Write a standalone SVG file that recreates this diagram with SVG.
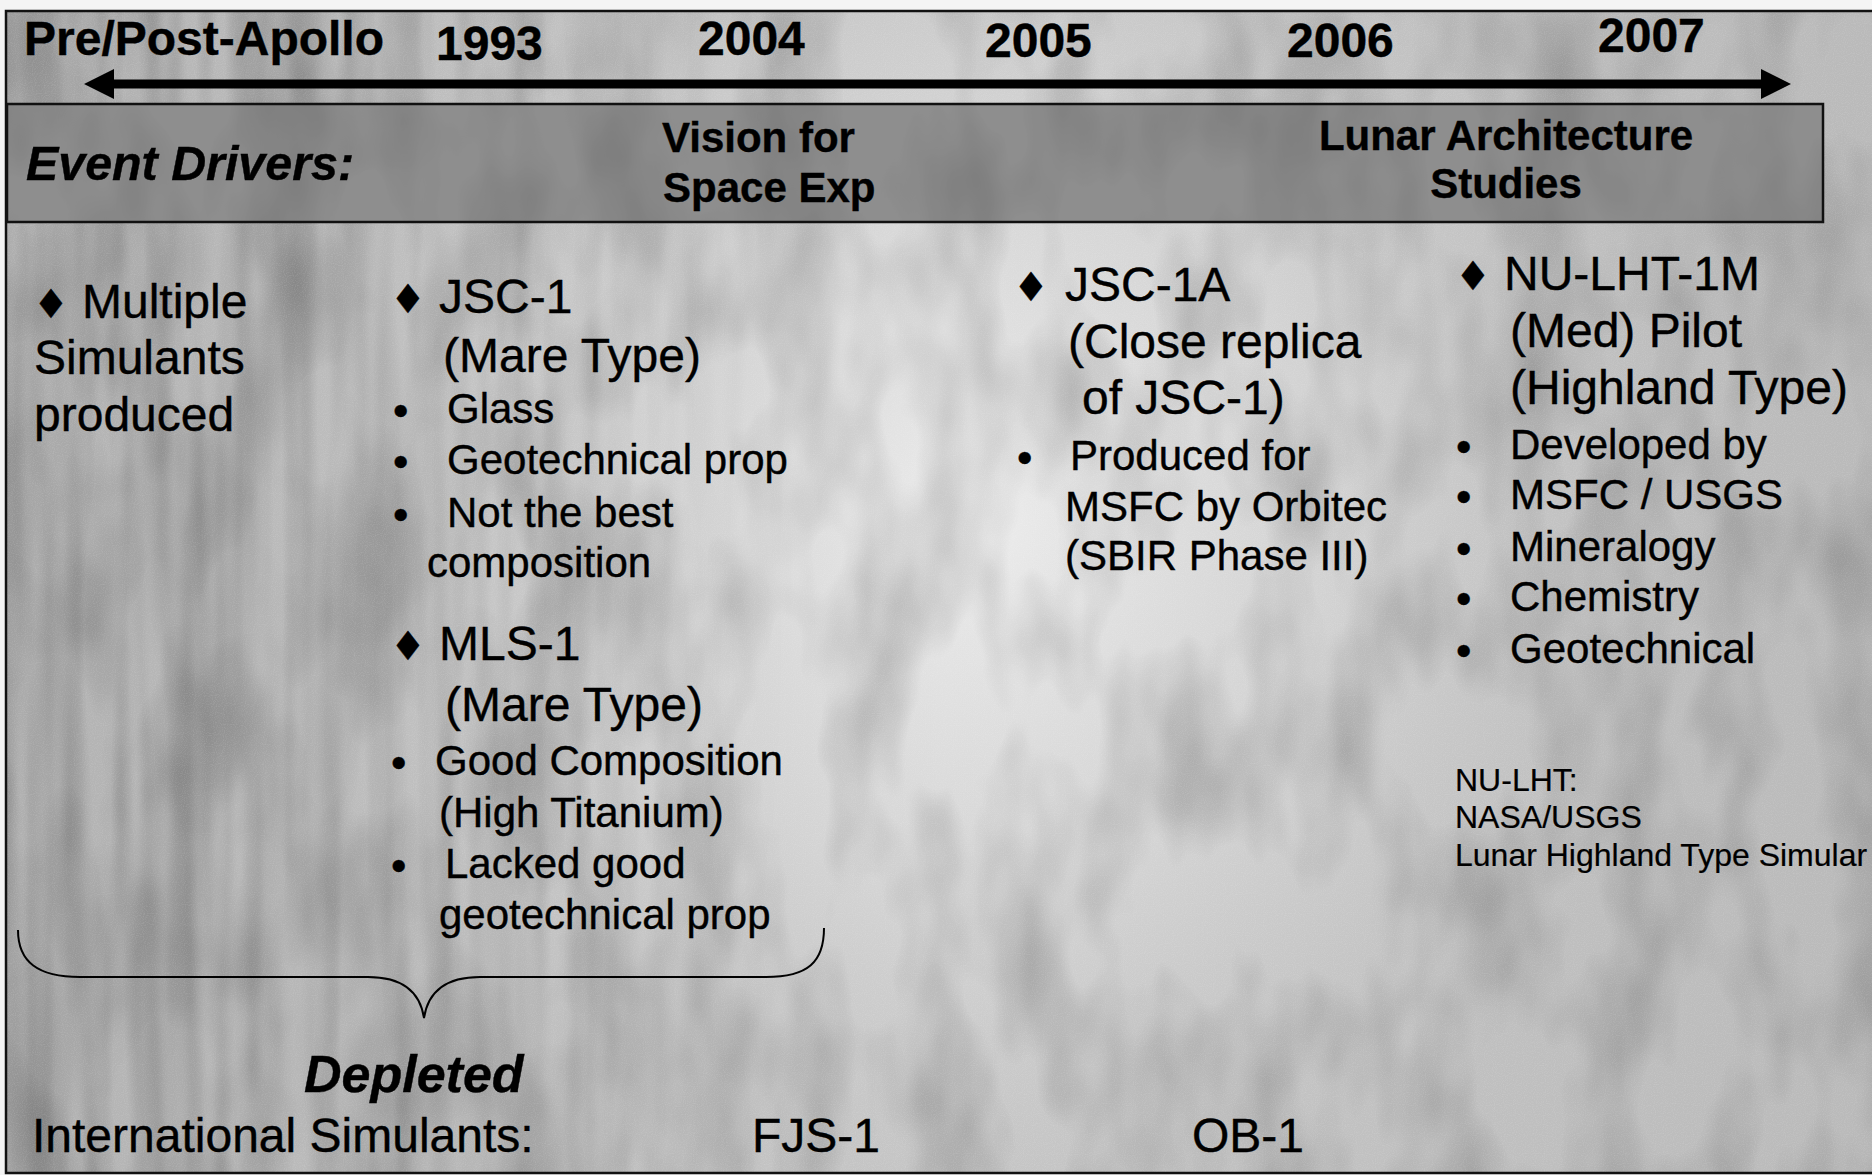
<svg xmlns="http://www.w3.org/2000/svg" width="1872" height="1175" viewBox="0 0 1872 1175">
<style>
text{font-family:"Liberation Sans",Arial,sans-serif;fill:#000;stroke:#000;stroke-width:0.4}
.yr{font-weight:bold;font-size:48px}
.bd{font-weight:bold;font-size:42px}
.bi{font-weight:bold;font-style:italic;font-size:48px}
.h{font-size:48px}
.s{font-size:42px}
.fn{font-size:32px;stroke-width:0.2}
.dia{font-family:"DejaVu Sans","Noto Sans",sans-serif;font-size:40px}
.blt{font-size:44px}
</style>
<defs>
<radialGradient id="glow" cx="980" cy="520" r="720" gradientUnits="userSpaceOnUse">
<stop offset="0" stop-color="#efefef" stop-opacity="0.95"/>
<stop offset="0.5" stop-color="#e2e2e2" stop-opacity="0.6"/>
<stop offset="1" stop-color="#d0d0d0" stop-opacity="0"/>
</radialGradient>
<linearGradient id="leftdark" x1="0" y1="0" x2="1" y2="0">
<stop offset="0" stop-color="#9a9a9a" stop-opacity="0.45"/>
<stop offset="0.25" stop-color="#a8a8a8" stop-opacity="0.2"/>
<stop offset="0.5" stop-color="#b0b0b0" stop-opacity="0"/>
<stop offset="1" stop-color="#909090" stop-opacity="0.2"/>
</linearGradient>
<linearGradient id="streakfade" x1="0" y1="0" x2="1" y2="0">
<stop offset="0" stop-color="#fff" stop-opacity="1"/>
<stop offset="0.6" stop-color="#fff" stop-opacity="0.6"/>
<stop offset="1" stop-color="#fff" stop-opacity="0"/>
</linearGradient>
<mask id="leftmask" maskUnits="userSpaceOnUse" x="0" y="0" width="1872" height="1175">
<rect x="0" y="0" width="800" height="1175" fill="url(#streakfade)"/>
</mask>
<filter id="mottle" x="0" y="0" width="100%" height="100%">
<feTurbulence type="fractalNoise" baseFrequency="0.012 0.006" numOctaves="3" seed="4"/>
<feColorMatrix type="matrix" values="0 0 0 0 0  0 0 0 0 0  0 0 0 0 0  0.9 0 0 0 -0.35"/>
</filter>
<filter id="streak" x="0" y="0" width="100%" height="100%">
<feTurbulence type="fractalNoise" baseFrequency="0.035 0.0025" numOctaves="2" seed="9"/>
<feColorMatrix type="matrix" values="0 0 0 0 0  0 0 0 0 0  0 0 0 0 0  1.2 0 0 0 -0.45"/>
</filter>
<filter id="grain" x="0" y="0" width="100%" height="100%">
<feTurbulence type="fractalNoise" baseFrequency="0.9" numOctaves="1" seed="2"/>
<feColorMatrix type="matrix" values="0 0 0 0 1  0 0 0 0 1  0 0 0 0 1  0.9 0 0 0 -0.4"/>
</filter>
<marker id="ah" markerUnits="userSpaceOnUse" markerWidth="30" markerHeight="30" refX="14" refY="15" orient="auto-start-reverse">
<path d="M0,0 L30,15 L0,30 z" fill="#000"/>
</marker>
</defs>

<g id="background">
<rect x="0" y="0" width="1872" height="1175" fill="#f4f4f4"/>
<rect x="6" y="11" width="1870" height="1162" fill="#c4c4c4"/>
<rect x="6" y="11" width="1870" height="1162" fill="url(#glow)"/>
<rect x="6" y="11" width="1870" height="1162" fill="url(#leftdark)"/>
<rect x="6" y="11" width="1870" height="1162" filter="url(#mottle)" opacity="0.42"/>
<g mask="url(#leftmask)"><rect x="6" y="11" width="800" height="1162" filter="url(#streak)" opacity="0.35"/></g>
<rect x="6" y="11" width="1870" height="1162" filter="url(#grain)" opacity="0.35"/>
<rect x="6" y="11" width="1870" height="1162" fill="none" stroke="#111" stroke-width="2.5"/>
</g>

<g id="band">
<rect x="7" y="104" width="1816" height="118" fill="#8e8e8e"/>
<rect x="7" y="104" width="1816" height="118" filter="url(#mottle)" opacity="0.3"/>
<rect x="7" y="104" width="1816" height="118" fill="none" stroke="#111" stroke-width="2.5"/>
<text class="bi" x="26" y="180" textLength="328" lengthAdjust="spacingAndGlyphs">Event Drivers:</text>
<text class="bd" x="662" y="152">Vision for</text>
<text class="bd" x="663" y="202">Space Exp</text>
<text class="bd" x="1506" y="150" text-anchor="middle">Lunar Architecture</text>
<text class="bd" x="1506" y="198" text-anchor="middle">Studies</text>
</g>

<g id="timeline-labels">
<text class="yr" x="24" y="55">Pre/Post-Apollo</text>
<text class="yr" x="436" y="60">1993</text>
<text class="yr" x="698" y="55">2004</text>
<text class="yr" x="985" y="57">2005</text>
<text class="yr" x="1287" y="57">2006</text>
<text class="yr" x="1598" y="52">2007</text>
</g>

<g id="connectors">
<line x1="100" y1="84" x2="1775" y2="84" stroke="#000" stroke-width="9" marker-start="url(#ah)" marker-end="url(#ah)"/>
<path d="M18,930 C18,962 38,977 80,977 L368,977 C402,977 420,992 424,1018 C428,992 446,977 480,977 L766,977 C808,977 824,962 824,928" fill="none" stroke="#000" stroke-width="2"/>
</g>

<g id="col-pre-apollo">
<text class="dia" x="33" y="318">♦</text>
<text class="h" x="82" y="318">Multiple</text>
<text class="h" x="34" y="374">Simulants</text>
<text class="h" x="34" y="431">produced</text>
</g>

<g id="col-1993">
<text class="dia" x="390" y="313">♦</text>
<text class="h" x="439" y="313">JSC-1</text>
<text class="h" x="443" y="372">(Mare Type)</text>
<text class="blt" x="393" y="426">•</text>
<text class="s" x="447" y="423">Glass</text>
<text class="blt" x="393" y="477">•</text>
<text class="s" x="447" y="474">Geotechnical prop</text>
<text class="blt" x="393" y="530">•</text>
<text class="s" x="447" y="527">Not the best</text>
<text class="s" x="427" y="577">composition</text>
<text class="dia" x="390" y="660">♦</text>
<text class="h" x="439" y="660">MLS-1</text>
<text class="h" x="445" y="721">(Mare Type)</text>
<text class="blt" x="391" y="778">•</text>
<text class="s" x="435" y="775">Good Composition</text>
<text class="s" x="439" y="827">(High Titanium)</text>
<text class="blt" x="391" y="881">•</text>
<text class="s" x="445" y="878">Lacked good</text>
<text class="s" x="439" y="929">geotechnical prop</text>
</g>

<g id="col-2005">
<text class="dia" x="1013" y="301">♦</text>
<text class="h" x="1065" y="301">JSC-1A</text>
<text class="h" x="1068" y="358">(Close replica</text>
<text class="h" x="1082" y="414">of JSC-1)</text>
<text class="blt" x="1017" y="473">•</text>
<text class="s" x="1070" y="470">Produced for</text>
<text class="s" x="1065" y="521">MSFC by Orbitec</text>
<text class="s" x="1065" y="570">(SBIR Phase III)</text>
</g>

<g id="col-2007">
<text class="dia" x="1455" y="290">♦</text>
<text class="h" x="1504" y="290">NU-LHT-1M</text>
<text class="h" x="1510" y="347">(Med) Pilot</text>
<text class="h" x="1510" y="404">(Highland Type)</text>
<text class="blt" x="1456" y="462">•</text>
<text class="s" x="1510" y="459">Developed by</text>
<text class="blt" x="1456" y="512">•</text>
<text class="s" x="1510" y="509">MSFC / USGS</text>
<text class="blt" x="1456" y="564">•</text>
<text class="s" x="1510" y="561">Mineralogy</text>
<text class="blt" x="1456" y="614">•</text>
<text class="s" x="1510" y="611">Chemistry</text>
<text class="blt" x="1456" y="666">•</text>
<text class="s" x="1510" y="663">Geotechnical</text>
</g>

<g id="footnote">
<text class="fn" x="1455" y="791">NU-LHT:</text>
<text class="fn" x="1455" y="828">NASA/USGS</text>
<text class="fn" x="1455" y="866">Lunar Highland Type Simular</text>
</g>

<g id="international">
<text class="bi" x="304" y="1092" style="font-size:52px">Depleted</text>
<text class="h" x="32" y="1152">International Simulants:</text>
<text class="h" x="752" y="1152">FJS-1</text>
<text class="h" x="1192" y="1152">OB-1</text>
</g>
</svg>
